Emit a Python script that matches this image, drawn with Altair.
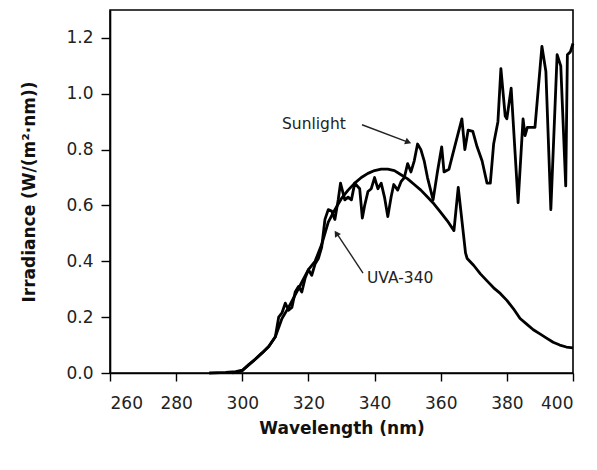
import altair as alt
import pandas as pd

# ---- data ----
uva_nm = [290, 295, 298, 300, 302, 304, 306, 308, 310, 312, 314, 316, 318, 320, 322, 324, 326,
          328, 330, 332, 334, 336, 338, 340, 342, 344, 346, 348, 350, 352, 354, 356, 358, 360,
          362, 364, 365.3, 367.5, 368, 370, 372, 374, 376, 378, 380, 382, 384, 386, 388, 390,
          392, 394, 396, 398, 400]
uva_val = [0.0, 0.002, 0.005, 0.01, 0.03, 0.05, 0.072, 0.095, 0.13, 0.195, 0.235, 0.28, 0.325,
           0.37, 0.40, 0.46, 0.54, 0.585, 0.625, 0.655, 0.68, 0.70, 0.715, 0.725, 0.73, 0.73,
           0.725, 0.71, 0.695, 0.675, 0.655, 0.63, 0.605, 0.575, 0.545, 0.51, 0.665, 0.43, 0.41,
           0.385, 0.355, 0.33, 0.305, 0.285, 0.26, 0.23, 0.195, 0.175, 0.155, 0.14, 0.125, 0.11,
           0.10, 0.093, 0.09]

sun_nm = [297, 300, 302, 304, 306, 308, 310, 311, 312, 313, 314, 315, 316, 317, 318, 319, 320,
          321, 322, 323, 324, 325, 326, 327, 328, 329, 329.7, 331, 332, 333, 334, 335.5, 336.3,
          337, 338, 339, 340, 341, 342, 343, 344, 345, 345.8, 347, 348, 349, 350, 351, 352, 353,
          354, 355, 356, 357.7, 359, 360.3, 361, 362.5, 364, 366.4, 367.3, 368.3, 369.7, 371,
          372.5, 374, 375, 376, 377.3, 378.2, 379.5, 380, 381.3, 383.4, 384.9, 385.5, 386.2,
          388.5, 390.6, 391.8, 393.3, 395.2, 396.3, 397.8, 398.3, 399.2, 400]
sun_val = [0.0, 0.008, 0.03, 0.05, 0.072, 0.095, 0.13, 0.20, 0.215, 0.25, 0.225, 0.235, 0.29,
           0.31, 0.29, 0.34, 0.37, 0.35, 0.39, 0.41, 0.45, 0.55, 0.585, 0.58, 0.55, 0.62, 0.68,
           0.62, 0.63, 0.62, 0.68, 0.66, 0.555, 0.60, 0.65, 0.66, 0.70, 0.66, 0.68, 0.63, 0.56,
           0.63, 0.675, 0.655, 0.685, 0.70, 0.75, 0.72, 0.76, 0.82, 0.80, 0.76, 0.70, 0.62, 0.72,
           0.81, 0.72, 0.73, 0.80, 0.91, 0.80, 0.87, 0.865, 0.81, 0.76, 0.68, 0.68, 0.82, 0.90,
           1.09, 0.92, 0.91, 1.02, 0.61, 0.91, 0.85, 0.88, 0.88, 1.17, 1.08, 0.585, 1.14, 1.10,
           0.67, 1.14, 1.15, 1.18]

x_ticks = list(range(260, 401, 10))
y_ticks = [round(i * 0.1, 1) for i in range(0, 13)]

labels = ["Sunlight", "UVA-340"]
label_nm = [312.0, 337.7]
label_val = [0.892, 0.34]

arrow_nm = [336.2, 336.5]
arrow_val = [0.889, 0.358]
arrow_nm2 = [350.3, 328.4]
arrow_val2 = [0.826, 0.503]
head_nm = [349.9, 328.6]
head_val = [0.828, 0.497]
head_angle = [111, 327]

# ---- tables ----
lines_df = pd.concat([
    pd.DataFrame({"nm": uva_nm, "val": uva_val, "series": "UVA-340"}),
    pd.DataFrame({"nm": sun_nm, "val": sun_val, "series": "Sunlight"}),
])
label_df = pd.DataFrame({"nm": label_nm, "val": label_val, "text": labels})
arrow_df = pd.DataFrame({"nm": arrow_nm, "val": arrow_val, "nm2": arrow_nm2, "val2": arrow_val2})
head_df = pd.DataFrame({"nm": head_nm, "val": head_val, "angle": head_angle})

FONT = "DejaVu Sans"

xscale = alt.Scale(domain=[260, 400], nice=False, zero=False)
yscale = alt.Scale(domain=[0, 1.3], nice=False)

xaxis = alt.Axis(
    values=x_ticks,
    labelExpr="datum.value % 20 === 0 ? datum.label : ''",
    tickSize={"condition": {"test": "datum.value % 20 === 0", "value": 8}, "value": 5},
    labelPadding=14,
    title="Wavelength (nm)",
    titlePadding=9,
    grid=False,
)
yaxis = alt.Axis(
    values=y_ticks,
    format=".1f",
    labelExpr="round(datum.value * 10) % 2 === 0 ? datum.label : ''",
    tickSize={"condition": {"test": "round(datum.value * 10) % 2 === 0", "value": 9}, "value": 5},
    labelPadding=8,
    title="Irradiance (W/(m²·nm))",
    titlePadding=27,
    grid=False,
)

lines = alt.Chart(lines_df).mark_line(color="black", strokeWidth=2.8, strokeJoin="round").encode(
    x=alt.X("nm:Q", scale=xscale, axis=xaxis),
    y=alt.Y("val:Q", scale=yscale, axis=yaxis),
    detail="series:N",
    order="nm:Q",
)

texts = alt.Chart(label_df).mark_text(
    align="left", baseline="middle", font=FONT, fontSize=15.5, color="#222"
).encode(x="nm:Q", y="val:Q", text="text:N")

arrows = alt.Chart(arrow_df).mark_rule(color="#222", strokeWidth=1.4).encode(
    x="nm:Q", y="val:Q", x2="nm2:Q", y2="val2:Q"
)

heads = alt.Chart(head_df).mark_point(
    shape="triangle", filled=True, color="#222", size=50, opacity=1
).encode(x="nm:Q", y="val:Q", angle=alt.Angle("angle:Q", scale=None))

chart = alt.layer(lines, arrows, heads, texts).properties(
    width=463,
    height=363,
    padding={"left": 102, "top": 2, "right": 10, "bottom": 80},
    autosize=alt.AutoSizeParams(type="none"),
).configure_view(
    stroke="black", strokeWidth=1.6
).configure_axis(
    domainColor="black", domainWidth=1.6, tickColor="black", tickWidth=1.4,
    labelFont=FONT, labelFontSize=17, labelColor="#222",
    titleFont=FONT, titleFontSize=17, titleFontWeight="bold", titleColor="#111",
)

chart.save("out.html", embed_options={"renderer": "svg", "actions": False})
